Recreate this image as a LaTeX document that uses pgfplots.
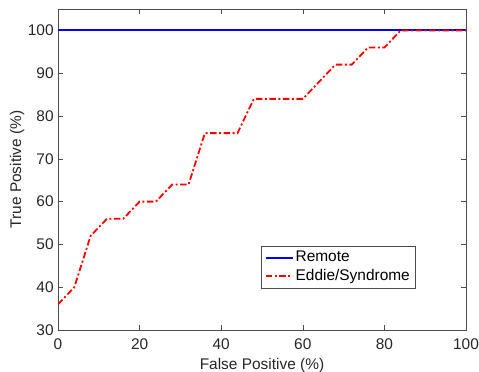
\documentclass[border=0pt]{standalone}
\usepackage{pgfplots}
\pgfplotsset{compat=1.18}
\usepackage{fontspec}
\setmainfont{Liberation Sans}
\newcommand{\fs}{\fontsize{15.5}{18}\selectfont}
\begin{document}
\fs
\begin{tikzpicture}
\useasboundingbox (-58bp,-42bp) rectangle (421bp,330bp);
\begin{axis}[
  at={(0,0)}, anchor=south west,
  scale only axis,
  width=408bp, height=321bp,
  xmin=0, xmax=100, ymin=30, ymax=105,
  xtick={0,20,40,60,80,100},
  ytick={30,40,50,60,70,80,90,100},
  tick align=inside,
  xtick pos=both, ytick pos=both,
  major tick length=5bp,
  axis line style={draw=black!70, line width=0.6bp},
  every tick/.style={black!70, line width=0.6bp},
  /pgf/number format/assume math mode=true,
  tick label style={font=\fs, text=black!85},
  xticklabel style={yshift=-3bp},
  yticklabel style={xshift=1bp},
  label style={font=\fs, text=black!85},
  xlabel={False Positive (\%)},
  ylabel={True Positive (\%)},
  xlabel style={yshift=1bp},
  ylabel style={yshift=-7bp},
  legend style={at={(0.875,0.131)}, anchor=south east,
    font=\fs, draw=black!70,
    inner xsep=3bp, inner ysep=3bp, row sep=1bp},
  legend cell align=left,
  legend image code/.code={\draw[#1] (-2bp,0bp) -- (25bp,0bp);},
]
\addplot[draw=blue, line width=2bp] coordinates {(0,100) (100,100)};
\addlegendentry{Remote}
\addplot[draw=red, line width=1.8bp, dash pattern=on 6.5bp off 2.5bp on 2bp off 2.5bp] coordinates {
(0,36) (4,40) (8,52) (12,56) (16,56) (20,60) (24,60) (28,64) (32,64) (36,76) (40,76) (44,76) (48,84) (52,84) (56,84) (60,84) (64,88) (68,92) (72,92) (76,96) (80,96) (84,100) (88,100) (92,100) (96,100) (100,100)};
\addlegendentry{Eddie/Syndrome}
\end{axis}
\end{tikzpicture}
\end{document}
